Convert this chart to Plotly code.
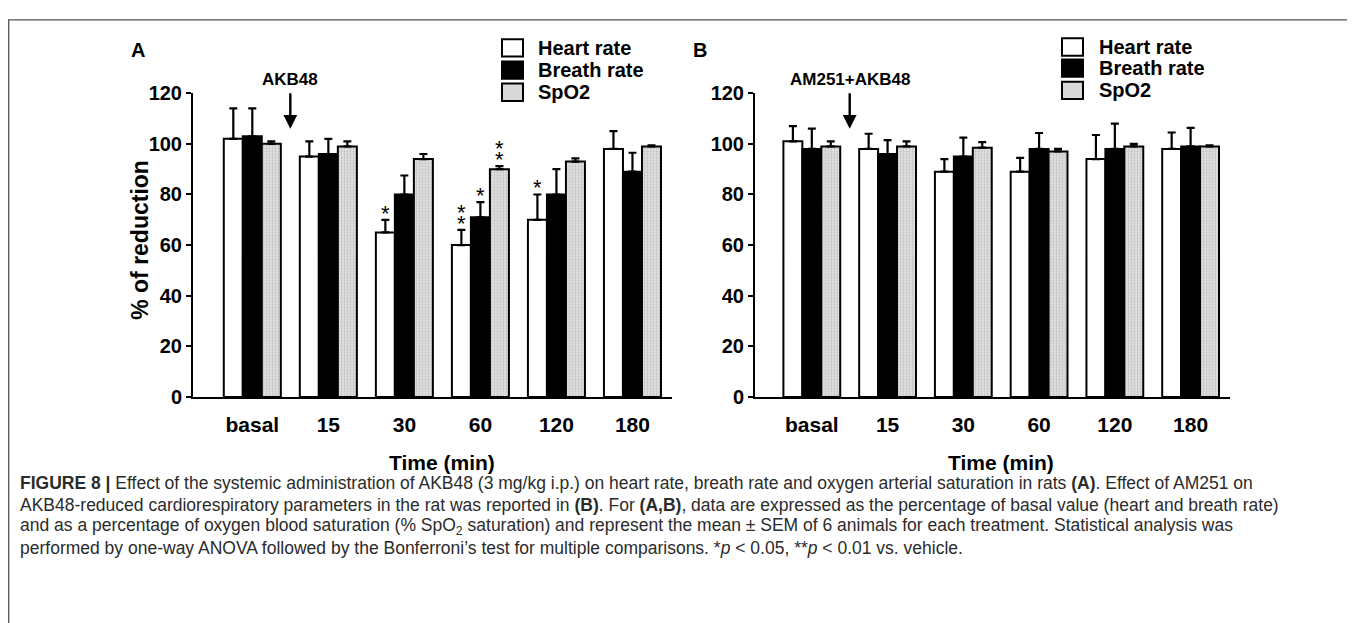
import plotly.graph_objects as go

# ---------------- data ----------------
categories = ["basal", "15", "30", "60", "120", "180"]
series_names = ["Heart rate", "Breath rate", "SpO2"]
y_ticks = [0, 20, 40, 60, 80, 100, 120]

# Panel A (AKB48)
heart_A = [102, 95, 65, 60, 70, 98]
heart_A_sem = [12, 6, 5, 6, 10, 7]
breath_A = [103, 96, 80, 71, 80, 89]
breath_A_sem = [11, 6, 7.5, 6, 10, 7.5]
spo2_A = [100, 99, 94, 90, 93, 99]
spo2_A_sem = [1, 2, 2, 1.2, 1.3, 0.4]

# Panel B (AM251+AKB48)
heart_B = [101, 98, 89, 89, 94, 98]
heart_B_sem = [6, 6, 5, 5.5, 9.5, 6.5]
breath_B = [98, 96, 95, 98, 98, 99]
breath_B_sem = [8, 5.5, 7.5, 6.3, 10, 7.3]
spo2_B = [99, 99, 98.5, 97, 99, 99]
spo2_B_sem = [2, 2, 2.2, 1, 1, 0.4]

# significance marks in panel A: (series index, category index, number of stars)
sig_A = [(0, 2, 1), (0, 3, 2), (1, 3, 1), (2, 3, 2), (0, 4, 1)]

caption_lines = [
    "<b>FIGURE 8 |</b> Effect of the systemic administration of AKB48 (3 mg/kg i.p.) on heart rate, breath rate and oxygen arterial saturation in rats <b>(A)</b>. Effect of AM251 on",
    "AKB48-reduced cardiorespiratory parameters in the rat was reported in <b>(B)</b>. For <b>(A,B)</b>, data are expressed as the percentage of basal value (heart and breath rate)",
    "and as a percentage of oxygen blood saturation (% SpO<sub>2</sub> saturation) and represent the mean \u00b1 SEM of 6 animals for each treatment. Statistical analysis was",
    "performed by one-way ANOVA followed by the Bonferroni\u2019s test for multiple comparisons. *<i>p</i> &lt; 0.05, **<i>p</i> &lt; 0.01 vs. vehicle.",
]

# ---------------- layout helpers ----------------
# the page body keeps an 8 px margin, so the figure is drawn from (8, 8)
OFF = 8
W, H = 1355 - OFF, 623 - OFF
FONT = "Arial, Liberation Sans, Helvetica, sans-serif"
CAP_FONT = "Liberation Sans, Arial, Helvetica, sans-serif"


def px(x):
    return (x - OFF) / W


def py(y):
    return 1 - (y - OFF) / H


BARGAP = 0.25
BAR_W = (1 - BARGAP) / 3
xs = list(range(len(categories)))

styles = [
    dict(color="white"),
    dict(color="black"),
    dict(color="#e2e2e2", pattern=dict(shape=".", fgcolor="#9c9c9c", bgcolor="#e6e6e6",
                                       size=3, solidity=0.45)),
]

fig = go.Figure()

panels = [
    ("x", "y", [(heart_A, heart_A_sem), (breath_A, breath_A_sem), (spo2_A, spo2_A_sem)]),
    ("x2", "y2", [(heart_B, heart_B_sem), (breath_B, breath_B_sem), (spo2_B, spo2_B_sem)]),
]

for xa, ya, series in panels:
    for i, (vals, sems) in enumerate(series):
        fig.add_trace(go.Bar(
            x=xs, y=vals, name=series_names[i], xaxis=xa, yaxis=ya,
            showlegend=False,
            marker=dict(line=dict(color="black", width=2), **styles[i]),
            error_y=dict(type="data", symmetric=False, array=sems,
                         arrayminus=[0] * len(sems), color="black",
                         thickness=2.2, width=4),
        ))

# significance asterisks (stacked vertically, one text block per bar)
series_A = [(heart_A, heart_A_sem), (breath_A, breath_A_sem), (spo2_A, spo2_A_sem)]
star = "<span style='font-size:22px'>*</span>"
for s, c, n in sig_A:
    vals, sems = series_A[s]
    fig.add_annotation(
        x=c + (s - 1) * BAR_W, y=vals[c] + sems[c], xref="x", yref="y",
        text="<br>".join([star] * n), showarrow=False, xanchor="center", yanchor="bottom",
        yshift=-8,
        font=dict(family=FONT, size=8.5, color="black"),
    )

axis_common = dict(
    showline=True, linecolor="black", linewidth=2, showgrid=False, zeroline=False,
    mirror=False,
)

fig.update_layout(
    width=W, height=H,
    margin=dict(l=0, r=0, t=0, b=0),
    paper_bgcolor="white", plot_bgcolor="white",
    barmode="group", bargap=BARGAP, bargroupgap=0,
    showlegend=False,
    font=dict(family=FONT, color="black"),
    xaxis=dict(domain=[px(193), px(672)], range=[-0.78, 5.52], anchor="y",
               tickmode="array", tickvals=xs, ticktext=categories, ticks="",
               ticklabelstandoff=8,
               tickfont=dict(family=FONT, size=21, weight="bold"),
               **axis_common),
    yaxis=dict(domain=[py(400), py(85)], range=[0, 120], anchor="x",
               tickmode="array", tickvals=y_ticks, ticks="outside", ticklen=5,
               tickwidth=2, tickcolor="black",
               tickfont=dict(family=FONT, size=20, weight="bold"),
               **axis_common),
    xaxis2=dict(domain=[px(755), px(1230)], range=[-0.75, 5.52], anchor="y2",
                tickmode="array", tickvals=xs, ticktext=categories, ticks="",
                ticklabelstandoff=8,
                tickfont=dict(family=FONT, size=21, weight="bold"),
                **axis_common),
    yaxis2=dict(domain=[py(400), py(85)], range=[0, 120], anchor="x2",
                tickmode="array", tickvals=y_ticks, ticks="outside", ticklen=5,
                tickwidth=2, tickcolor="black",
                tickfont=dict(family=FONT, size=20, weight="bold"),
                **axis_common),
)

# axis titles
fig.add_annotation(x=px(140), y=py(237), xref="paper", yref="paper", text="<b>% of reduction</b>",
                   textangle=-90, showarrow=False, xanchor="center", yanchor="middle",
                   font=dict(family=FONT, size=23, color="black"))
for xa in ["x", "x2"]:
    fig.add_annotation(x=2.5, y=py(468), xref=xa, yref="paper", text="<b>Time (min)</b>",
                       showarrow=False, xanchor="center", yanchor="middle",
                       font=dict(family=FONT, size=21, color="black"))

# panel letters
for letter, xp in [("A", 138), ("B", 700)]:
    fig.add_annotation(x=px(xp), y=py(40), xref="paper", yref="paper", text="<b>%s</b>" % letter,
                       showarrow=False, xanchor="center", yanchor="middle",
                       font=dict(family=FONT, size=20, color="black"))

# treatment arrows and labels
for xa, ya, label in [("x", "y", "AKB48"), ("x2", "y2", "AM251+AKB48")]:
    fig.add_annotation(x=0.5, y=106, xref=xa, yref=ya, text="", showarrow=True,
                       ax=0, ay=-37, arrowhead=2, arrowsize=1.15, arrowwidth=2.4,
                       arrowcolor="black")
    fig.add_annotation(x=0.5, y=py(71), xref=xa, yref="paper", text="<b>%s</b>" % label,
                       showarrow=False, xanchor="center", yanchor="middle",
                       font=dict(family=FONT, size=17, color="black"))

# legends (drawn as layout boxes + text)
legend_pos = [(502, 536, [38, 61, 84]), (1062, 1097, [37, 59, 82])]
legend_fill = ["white", "black", "#d8d8d8"]
for bx, tx, rows in legend_pos:
    for i, cy in enumerate(rows):
        fig.add_shape(type="rect", xref="paper", yref="paper",
                      x0=px(bx), x1=px(bx + 21), y0=py(cy - 9), y1=py(cy + 9),
                      line=dict(color="black", width=2), fillcolor=legend_fill[i])
        fig.add_annotation(x=px(tx), y=py(cy), xref="paper", yref="paper",
                           text="<b>%s</b>" % series_names[i], showarrow=False,
                           xanchor="left", yanchor="middle",
                           font=dict(family=FONT, size=20, color="black"))

# outer frame
fig.add_shape(type="rect", xref="paper", yref="paper", x0=px(8.7), x1=1.02, y0=-0.02, y1=py(9),
              line=dict(color="#555555", width=1.3), fillcolor="rgba(0,0,0,0)", layer="below")

# caption
for k, line in enumerate(caption_lines):
    fig.add_annotation(x=px(18), y=py(489 + 22.6 * k), xref="paper", yref="paper",
                       text=line, showarrow=False, xanchor="left", yanchor="middle",
                       font=dict(family=CAP_FONT, size=17.5, color="#2b2b2b"))

fig.write_html("out.html")
